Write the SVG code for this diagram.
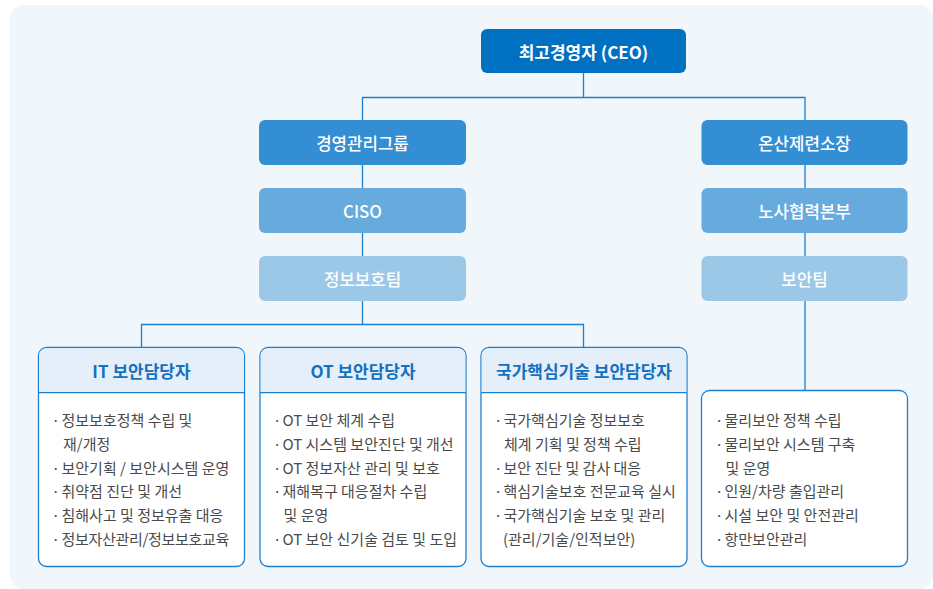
<svg xmlns="http://www.w3.org/2000/svg" width="933" height="589" viewBox="0 0 933 589">
<style>
text{font-family:"Noto Sans CJK KR","Noto Sans",sans-serif;dominant-baseline:central}
.t{fill:#fff;text-anchor:middle;font-size:16.8px;font-weight:500}
.ceo{fill:#fff;text-anchor:middle;font-size:17px;font-weight:700}
.h{fill:#1570C0;text-anchor:middle;font-size:17px;font-weight:700}
.b{fill:#4a4a4a;font-size:15px}
.card{fill:#fff;stroke:#1F7FCF;stroke-width:1.3}
.hd{fill:#E4EFF9}
.conn{fill:none;stroke:#1F7FCF;stroke-width:1.3}
</style>
<rect x="10" y="5" width="923" height="584" rx="14" fill="#F1F6FB"/>
<g id="connectors" class="conn">
<path d="M583.5 73V97.5M362.5 120V97.5H805V120"/>
<path d="M362.5 165V188M362.5 233V256M362.5 301V324.5M141.5 347.5V324.5H583.5V347.5"/>
<path d="M805 165V188M805 233V256M805 301V390.5"/>
</g>
<g id="ceo"><rect x="481" y="29" width="205" height="44" rx="6" fill="#0070C2"/><text class="ceo" x="583.5" y="51">최고경영자 (CEO)</text></g>
<g id="mgmt"><rect x="259" y="120" width="207" height="45" rx="6" fill="#338ED4"/><text class="t" x="362.5" y="142.5">경영관리그룹</text></g>
<g id="ciso"><rect x="259" y="188" width="207" height="45" rx="6" fill="#67AADD"/><text class="t" x="362.5" y="210.5">CISO</text></g>
<g id="infosec"><rect x="259" y="256" width="207" height="45" rx="6" fill="#9CC8E8"/><text class="t" x="362.5" y="278.5">정보보호팀</text></g>
<g id="onsan"><rect x="701.5" y="120" width="206" height="45" rx="6" fill="#338ED4"/><text class="t" x="804.5" y="142.5">온산제련소장</text></g>
<g id="labor"><rect x="701.5" y="188" width="206" height="45" rx="6" fill="#67AADD"/><text class="t" x="804.5" y="210.5">노사협력본부</text></g>
<g id="secteam"><rect x="701.5" y="256" width="206" height="45" rx="6" fill="#9CC8E8"/><text class="t" x="804.5" y="278.5">보안팀</text></g>

<g id="it">
<rect class="card" x="38.5" y="347.5" width="206" height="219" rx="8"/>
<path class="hd" d="M39.2 392.7V355.5a7.3 7.3 0 0 1 7.3-7.3H236.5a7.3 7.3 0 0 1 7.3 7.3V392.7Z"/>
<line x1="38.5" y1="392.7" x2="244.5" y2="392.7" stroke="#1F7FCF" stroke-width="1.3"/>
<text class="h" x="141.5" y="370">IT 보안담당자</text>
<text class="b"><tspan x="51.5" y="419">·</tspan><tspan x="61.5" y="419">정보보호정책 수립 및</tspan><tspan x="63" y="442.8">재/개정</tspan><tspan x="51.5" y="466.6">·</tspan><tspan x="61.5" y="466.6">보안기획 / 보안시스템 운영</tspan><tspan x="51.5" y="490.4">·</tspan><tspan x="61.5" y="490.4">취약점 진단 및 개선</tspan><tspan x="51.5" y="514.2">·</tspan><tspan x="61.5" y="514.2">침해사고 및 정보유출 대응</tspan><tspan x="51.5" y="538">·</tspan><tspan x="61.5" y="538" letter-spacing="-0.3">정보자산관리/정보보호교육</tspan></text>
</g>
<g id="ot">
<rect class="card" x="260" y="347.5" width="206" height="219" rx="8"/>
<path class="hd" d="M260.7 392.7V355.5a7.3 7.3 0 0 1 7.3-7.3H458a7.3 7.3 0 0 1 7.3 7.3V392.7Z"/>
<line x1="260" y1="392.7" x2="466" y2="392.7" stroke="#1F7FCF" stroke-width="1.3"/>
<text class="h" x="363" y="370">OT 보안담당자</text>
<text class="b"><tspan x="273" y="419">·</tspan><tspan x="282.5" y="419">OT 보안 체계 수립</tspan><tspan x="273" y="442.8">·</tspan><tspan x="282.5" y="442.8">OT 시스템 보안진단 및 개선</tspan><tspan x="273" y="466.6">·</tspan><tspan x="282.5" y="466.6">OT 정보자산 관리 및 보호</tspan><tspan x="273" y="490.4">·</tspan><tspan x="282.5" y="490.4">재해복구 대응절차 수립</tspan><tspan x="283.5" y="514.2">및 운영</tspan><tspan x="273" y="538">·</tspan><tspan x="282.5" y="538">OT 보안 신기술 검토 및 도입</tspan></text>
</g>
<g id="ntech">
<rect class="card" x="481" y="347.5" width="206" height="219" rx="8"/>
<path class="hd" d="M481.7 392.7V355.5a7.3 7.3 0 0 1 7.3-7.3H679a7.3 7.3 0 0 1 7.3 7.3V392.7Z"/>
<line x1="481" y1="392.7" x2="687" y2="392.7" stroke="#1F7FCF" stroke-width="1.3"/>
<text class="h" x="584" y="370">국가핵심기술 보안담당자</text>
<text class="b"><tspan x="494" y="419">·</tspan><tspan x="503.5" y="419">국가핵심기술 정보보호</tspan><tspan x="504" y="442.8">체계 기획 및 정책 수립</tspan><tspan x="494" y="466.6">·</tspan><tspan x="503.5" y="466.6">보안 진단 및 감사 대응</tspan><tspan x="494" y="490.4">·</tspan><tspan x="503.5" y="490.4">핵심기술보호 전문교육 실시</tspan><tspan x="494" y="514.2">·</tspan><tspan x="503.5" y="514.2">국가핵심기술 보호 및 관리</tspan><tspan x="503" y="538">(관리/기술/인적보안)</tspan></text>
</g>
<g id="physical">
<rect class="card" x="701.5" y="390.5" width="206" height="176" rx="8"/>
<text class="b"><tspan x="715" y="419">·</tspan><tspan x="724.5" y="419">물리보안 정책 수립</tspan><tspan x="715" y="442.8">·</tspan><tspan x="724.5" y="442.8">물리보안 시스템 구축</tspan><tspan x="725.5" y="466.6">및 운영</tspan><tspan x="715" y="490.4">·</tspan><tspan x="724.5" y="490.4">인원/차량 출입관리</tspan><tspan x="715" y="514.2">·</tspan><tspan x="724.5" y="514.2">시설 보안 및 안전관리</tspan><tspan x="715" y="538">·</tspan><tspan x="724.5" y="538">항만보안관리</tspan></text>
</g>
</svg>
